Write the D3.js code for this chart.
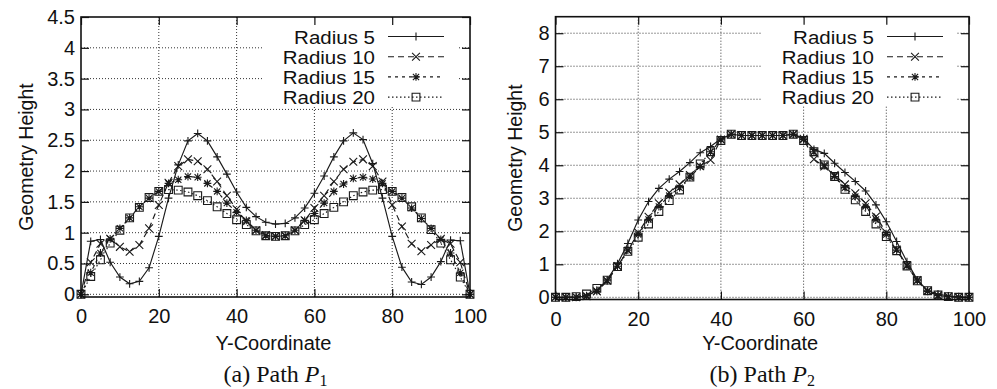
<!DOCTYPE html>
<html lang="en">
<head>
<meta charset="UTF-8">
<title>Geometry height along paths</title>
<script src="https://d3js.org/d3.v7.min.js"></script>
<style>
  body { margin: 0; background: #fff; }
  svg text { font-family: "Liberation Sans", Arial, Helvetica, sans-serif; fill: #111; }
  .caption { font-family: "Liberation Serif", "Times New Roman", serif; }
  .grid line { stroke: #333; stroke-width: 1; stroke-dasharray: 1,2; }
  .series { fill: none; stroke: #1a1a1a; stroke-width: 1.15; }
  .mark { fill: none; stroke: #1a1a1a; stroke-width: 1.1; }
  .frame { fill: none; stroke: #111; stroke-width: 1.6; }
  .tick line { stroke: #111; stroke-width: 1.2; }
</style>
</head>
<body>
<script>
    const width  = 997;
    const height = 389;

    // sample positions along the path (Y-Coordinate)
    const xs = [0, 2.5, 5, 7.5, 10, 12.5, 15, 17.5, 20, 22.5, 25, 27.5, 30, 32.5, 35, 37.5, 40, 42.5, 45, 47.5,
                50, 52.5, 55, 57.5, 60, 62.5, 65, 67.5, 70, 72.5, 75, 77.5, 80, 82.5, 85, 87.5, 90, 92.5, 95, 97.5, 100];

    const seriesNames = ["Radius 5", "Radius 10", "Radius 15", "Radius 20"];

    // (a) Path P1
    const p1Radius5  = [0, 0.86, 0.89, 0.52, 0.28, 0.17, 0.21, 0.43, 0.94, 1.56, 2.10, 2.49, 2.61, 2.49, 2.23, 1.95, 1.66, 1.41, 1.26, 1.17,
                        1.14, 1.15, 1.24, 1.40, 1.64, 1.92, 2.23, 2.49, 2.62, 2.51, 2.12, 1.56, 0.94, 0.44, 0.20, 0.16, 0.28, 0.53, 0.88, 0.87, 0];
    const p1Radius10 = [0, 0.52, 0.82, 0.90, 0.77, 0.69, 0.80, 1.07, 1.45, 1.81, 2.08, 2.19, 2.16, 2.03, 1.83, 1.60, 1.38, 1.18, 1.04, 0.96,
                        0.94, 0.95, 1.04, 1.20, 1.40, 1.60, 1.83, 2.03, 2.15, 2.19, 2.08, 1.83, 1.45, 1.10, 0.82, 0.70, 0.80, 0.90, 0.82, 0.52, 0];
    const p1Radius15 = [0, 0.35, 0.67, 0.90, 1.07, 1.24, 1.42, 1.56, 1.67, 1.80, 1.86, 1.91, 1.90, 1.80, 1.67, 1.48, 1.33, 1.20, 1.04, 0.95,
                        0.94, 0.95, 1.04, 1.20, 1.31, 1.48, 1.67, 1.79, 1.88, 1.90, 1.87, 1.80, 1.67, 1.56, 1.40, 1.23, 1.07, 0.89, 0.67, 0.35, 0];
    const p1Radius20 = [0, 0.29, 0.56, 0.83, 1.04, 1.24, 1.41, 1.57, 1.67, 1.70, 1.69, 1.66, 1.60, 1.52, 1.42, 1.31, 1.21, 1.13, 1.03, 0.95,
                        0.94, 0.95, 1.03, 1.13, 1.21, 1.31, 1.41, 1.50, 1.60, 1.66, 1.69, 1.70, 1.67, 1.57, 1.42, 1.24, 1.05, 0.83, 0.56, 0.28, 0];

    // (b) Path P2
    const p2Radius5  = [0, 0, 0, 0.04, 0.22, 0.53, 1.02, 1.63, 2.34, 2.90, 3.30, 3.58, 3.81, 4.08, 4.38, 4.57, 4.80, 4.94, 4.90, 4.90,
                        4.90, 4.90, 4.90, 4.94, 4.82, 4.48, 4.36, 4.06, 3.78, 3.51, 3.22, 2.80, 2.29, 1.69, 1.08, 0.53, 0.20, 0.10, 0.04, 0.02, 0];
    const p2Radius10 = [0, 0, 0, 0.03, 0.18, 0.50, 0.95, 1.41, 1.96, 2.44, 2.85, 3.17, 3.42, 3.70, 3.97, 4.16, 4.78, 4.94, 4.90, 4.90,
                        4.90, 4.90, 4.90, 4.94, 4.80, 4.18, 3.96, 3.70, 3.42, 3.15, 2.85, 2.45, 1.96, 1.45, 0.97, 0.52, 0.20, 0.05, 0.02, 0, 0];
    const p2Radius15 = [0, 0, 0.01, 0.05, 0.18, 0.50, 0.94, 1.43, 1.90, 2.36, 2.75, 3.08, 3.32, 3.64, 3.96, 4.41, 4.77, 4.94, 4.90, 4.90,
                        4.90, 4.90, 4.90, 4.94, 4.78, 4.41, 4.00, 3.66, 3.32, 3.05, 2.75, 2.36, 1.90, 1.43, 0.95, 0.50, 0.18, 0.05, 0.02, 0, 0];
    const p2Radius20 = [0, 0, 0.02, 0.10, 0.27, 0.52, 0.93, 1.39, 1.82, 2.22, 2.60, 2.93, 3.25, 3.64, 4.04, 4.41, 4.75, 4.94, 4.90, 4.90,
                        4.90, 4.90, 4.90, 4.94, 4.75, 4.41, 4.01, 3.66, 3.27, 2.95, 2.60, 2.22, 1.84, 1.41, 0.95, 0.50, 0.20, 0.07, 0.02, 0, 0];

    const xTicks   = [0, 20, 40, 60, 80, 100];
    const p1YTicks = [0, 0.5, 1, 1.5, 2, 2.5, 3, 3.5, 4, 4.5];
    const p2YTicks = [0, 1, 2, 3, 4, 5, 6, 7, 8];

    const dashes = [null, "6,4", "3,4", "1.5,2.5"];
    const s = 3.9;
    const markers = [
        `M${-s},0H${s}M0,${-s}V${s}`,
        `M${-s},${-s}L${s},${s}M${-s},${s}L${s},${-s}`,
        `M${-s},0H${s}M0,${-s}V${s}M${-s*0.8},${-s*0.8}L${s*0.8},${s*0.8}M${-s*0.8},${s*0.8}L${s*0.8},${-s*0.8}`,
        `M${-s},${-s}H${s}V${s}H${-s}Z`
    ];

    const svg = d3.select("body").append("svg").attr("width", width).attr("height", height);

    function drawPanel(p) {
        const x = d3.scaleLinear().domain([0, 100]).range([p.left, p.right]);
        const y = d3.scaleLinear().domain([0, p.yMax]).range([p.zeroY, p.top]);
        const g = svg.append("g");

        // dotted grid
        const grid = g.append("g").attr("class", "grid");
        grid.selectAll("line.h").data(p.yTicks.filter(v => v < p.yMax)).enter()
            .append("line").attr("class", "h")
            .attr("x1", p.left).attr("x2", p.right)
            .attr("y1", d => y(d)).attr("y2", d => y(d));
        grid.selectAll("line.v").data(xTicks.filter(v => v > 0 && v < 100)).enter()
            .append("line").attr("class", "v")
            .attr("x1", d => x(d)).attr("x2", d => x(d))
            .attr("y1", p.top).attr("y2", p.bottom);

        // legend box hides grid behind it
        g.append("rect").attr("x", p.right - 207).attr("y", p.top + 1)
            .attr("width", 195).attr("height", 106 - p.top - 1).attr("fill", "#fff");

        // series
        p.series.forEach((vals, i) => {
            const pts = xs.map((xv, j) => [x(xv), y(vals[j])]);
            g.append("path").attr("class", "series")
                .attr("d", d3.line()(pts))
                .attr("stroke-dasharray", dashes[i]);
            g.selectAll("path.m" + i).data(pts).enter()
                .append("path").attr("class", "mark m" + i)
                .attr("d", markers[i])
                .attr("transform", d => `translate(${d[0]},${d[1]})`);
        });

        // frame and ticks
        g.append("rect").attr("class", "frame")
            .attr("x", p.left).attr("y", p.top)
            .attr("width", p.right - p.left).attr("height", p.bottom - p.top);

        const fs = "20px";
        const ax = g.append("g").attr("transform", `translate(${p.left},0)`)
            .call(d3.axisLeft(y).tickValues(p.yTicks).tickSize(-8).tickPadding(6).tickFormat(d3.format("")));
        ax.select(".domain").remove();
        ax.attr("font-size", fs).attr("font-family", null);

        const axR = g.append("g").attr("transform", `translate(${p.right},0)`)
            .call(d3.axisRight(y).tickValues(p.yTicks).tickSize(-8).tickFormat(""));
        axR.select(".domain").remove();

        const axB = g.append("g").attr("transform", `translate(0,${p.bottom})`)
            .call(d3.axisBottom(x).tickValues(xTicks).tickSize(-8).tickPadding(12));
        axB.select(".domain").remove();
        axB.attr("font-size", fs).attr("font-family", null);

        const axT = g.append("g").attr("transform", `translate(0,${p.top})`)
            .call(d3.axisTop(x).tickValues(xTicks).tickSize(-8).tickFormat(""));
        axT.select(".domain").remove();

        // axis titles
        g.append("text").attr("transform", `translate(${p.left - p.titleGap},${(p.top + p.bottom) / 2}) rotate(-90)`)
            .attr("text-anchor", "middle").attr("font-size", "19.5px").text("Geometry Height");
        g.append("text").attr("x", (p.left + p.right) / 2 - 2).attr("y", 350)
            .attr("text-anchor", "middle").attr("font-size", "20px").text("Y-Coordinate");

        // caption
        const cap = g.append("text").attr("class", "caption")
            .attr("x", (p.left + p.right) / 2).attr("y", 382)
            .attr("text-anchor", "middle").attr("font-size", "24px");
        cap.append("tspan").text(p.captionLabel + " Path ");
        cap.append("tspan").attr("font-style", "italic").text("P");
        cap.append("tspan").attr("font-size", "16px").attr("dy", 4).text(p.captionSub);

        // legend: rows are tight, so use a smaller font stretched to the wide look
        const tx = p.right - 95;
        seriesNames.forEach((name, i) => {
            const by = 43.5 + i * 20.2;
            const cy = by - 7;
            const t = g.append("text").attr("x", tx).attr("y", by).attr("text-anchor", "end")
                .attr("font-size", "20.5px").text(name);
            const w = t.node().getComputedTextLength();
            t.attr("font-size", "17.5px").attr("textLength", w).attr("lengthAdjust", "spacingAndGlyphs");
            g.append("line").attr("class", "series")
                .attr("x1", tx + 13).attr("x2", tx + 69).attr("y1", cy).attr("y2", cy)
                .attr("stroke-dasharray", dashes[i]);
            g.append("path").attr("class", "mark").attr("d", markers[i])
                .attr("transform", `translate(${tx + 41},${cy})`);
        });
    }

    drawPanel({
        left: 81, right: 470, top: 17, zeroY: 294.3, bottom: 297, yMax: 4.5,
        yTicks: p1YTicks, titleGap: 48,
        series: [p1Radius5, p1Radius10, p1Radius15, p1Radius20],
        captionLabel: "(a)", captionSub: "1"
    });
    drawPanel({
        left: 555.5, right: 969, top: 16.7, zeroY: 297.3, bottom: 299.5, yMax: 8.5,
        yTicks: p2YTicks, titleGap: 34,
        series: [p2Radius5, p2Radius10, p2Radius15, p2Radius20],
        captionLabel: "(b)", captionSub: "2"
    });
</script>
</body>
</html>
